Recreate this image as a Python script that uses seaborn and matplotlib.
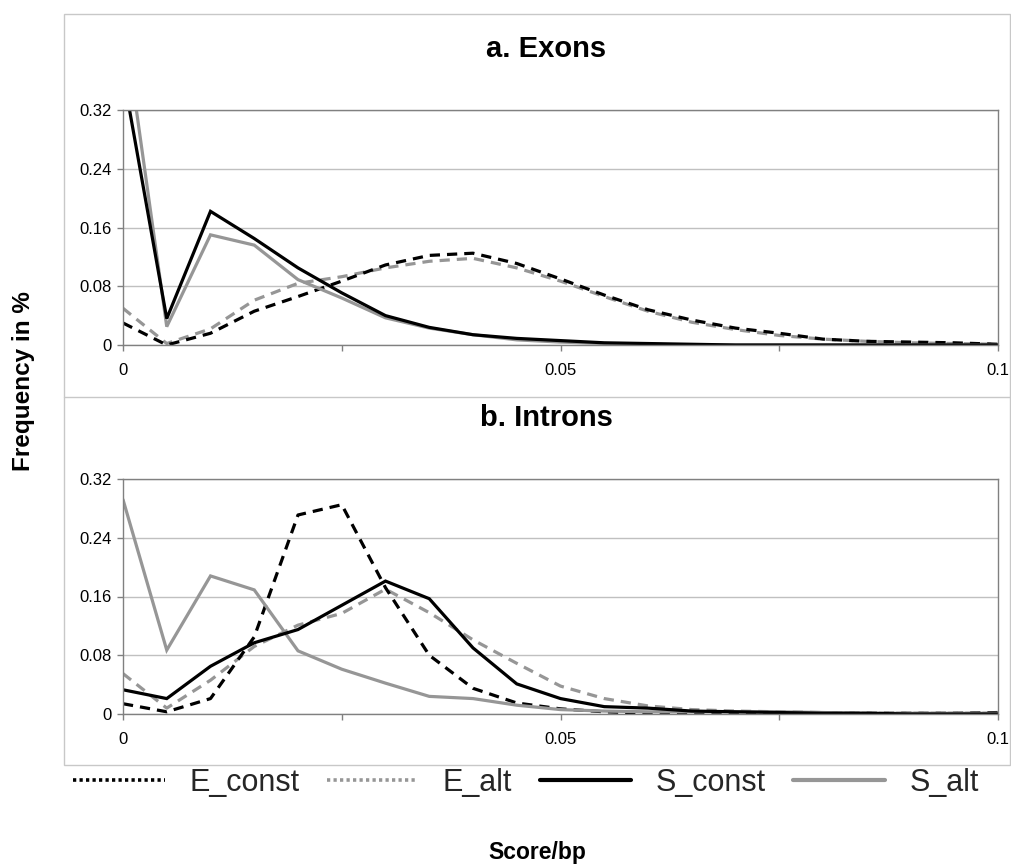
import numpy as np
import pandas as pd
import matplotlib
matplotlib.use("Agg")
import matplotlib.pyplot as plt
from matplotlib.lines import Line2D
from matplotlib.patches import Rectangle
import seaborn as sns

# ---- data ----
score = [0.000, 0.005, 0.010, 0.015, 0.020, 0.025, 0.030, 0.035, 0.040, 0.045, 0.050,
         0.055, 0.060, 0.065, 0.070, 0.075, 0.080, 0.085, 0.090, 0.095, 0.100]

exon_E_const = [0.030, 0.000, 0.016, 0.046, 0.066, 0.087, 0.109, 0.122, 0.125, 0.111, 0.090,
                0.068, 0.048, 0.034, 0.023, 0.016, 0.008, 0.005, 0.004, 0.003, 0.001]
exon_E_alt = [0.050, 0.002, 0.022, 0.061, 0.084, 0.093, 0.105, 0.114, 0.118, 0.105, 0.087,
              0.066, 0.046, 0.031, 0.021, 0.013, 0.008, 0.005, 0.003, 0.002, 0.001]
exon_S_const = [0.370, 0.036, 0.182, 0.145, 0.105, 0.071, 0.040, 0.024, 0.014, 0.009, 0.006,
                0.003, 0.002, 0.001, 0.000, 0.000, 0.000, 0.000, 0.000, 0.000, 0.000]
exon_S_alt = [0.450, 0.025, 0.150, 0.136, 0.089, 0.064, 0.037, 0.023, 0.014, 0.007, 0.004,
              0.002, 0.001, 0.000, 0.000, 0.000, 0.000, 0.000, 0.000, 0.000, 0.000]

intron_E_const = [0.014, 0.003, 0.021, 0.105, 0.271, 0.285, 0.172, 0.080, 0.035, 0.015, 0.007,
                  0.003, 0.001, 0.001, 0.001, 0.001, 0.001, 0.001, 0.001, 0.001, 0.002]
intron_E_alt = [0.055, 0.008, 0.046, 0.092, 0.121, 0.137, 0.170, 0.138, 0.101, 0.069, 0.038,
                0.021, 0.011, 0.006, 0.004, 0.003, 0.002, 0.001, 0.001, 0.001, 0.001]
intron_S_const = [0.033, 0.021, 0.065, 0.097, 0.115, 0.148, 0.181, 0.157, 0.090, 0.041, 0.021,
                  0.010, 0.008, 0.004, 0.003, 0.002, 0.001, 0.001, 0.000, 0.000, 0.000]
intron_S_alt = [0.292, 0.087, 0.188, 0.169, 0.086, 0.061, 0.042, 0.024, 0.021, 0.012, 0.006,
                0.004, 0.003, 0.003, 0.003, 0.003, 0.002, 0.001, 0.001, 0.001, 0.001]

series_names = ["E_const", "E_alt", "S_const", "S_alt"]
panel_titles = ["a. Exons", "b. Introns"]
y_ticks = [0, 0.08, 0.16, 0.24, 0.32]
y_tick_labels = ["0", "0.08", "0.16", "0.24", "0.32"]
x_ticks = [0, 0.025, 0.05, 0.075, 0.1]
x_tick_labels = ["0", "", "0.05", "", "0.1"]

# ---- styles ----
GRAY = "#969696"
BLACK = "#000000"
styles = {
    "E_const": dict(color=BLACK, dashes=(3.2, 2.2)),
    "E_alt": dict(color=GRAY, dashes=(3.2, 2.2)),
    "S_const": dict(color=BLACK, dashes=None),
    "S_alt": dict(color=GRAY, dashes=None),
}
draw_order = ["E_alt", "E_const", "S_alt", "S_const"]

panels = {
    "a. Exons": dict(zip(series_names, [exon_E_const, exon_E_alt, exon_S_const, exon_S_alt])),
    "b. Introns": dict(zip(series_names, [intron_E_const, intron_E_alt, intron_S_const, intron_S_alt])),
}

sns.set_theme(style="white")
plt.rcParams["font.family"] = ["Liberation Sans", "DejaVu Sans"]

W, H = 1011, 866
fig = plt.figure(figsize=(W / 100, H / 100), dpi=100)
fig.patch.set_facecolor("white")

def fx(px):
    return px / W

def fy(py):
    return 1 - py / H

axes_boxes = [(123, 110, 998, 345), (123, 479, 998, 714)]
title_y = [49, 418]

LW = 2.3
for (l, t, r, b), title, ty in zip(axes_boxes, panel_titles, title_y):
    ax = fig.add_axes([fx(l), fy(b), fx(r) - fx(l), fy(t) - fy(b)])
    data = panels[title]
    for name in draw_order:
        st = styles[name]
        df = pd.DataFrame({"score": score, "freq": data[name]})
        sns.lineplot(data=df, x="score", y="freq", ax=ax, color=st["color"],
                     linewidth=LW, legend=False)
        line = ax.lines[-1]
        if st["dashes"] is not None:
            line.set_dashes(st["dashes"])
            line.set_dash_capstyle("butt")
        line.set_solid_joinstyle("miter")
    ax.set_xlim(0, 0.1)
    ax.set_ylim(0, 0.32)
    ax.set_yticks(y_ticks)
    ax.set_yticklabels(y_tick_labels)
    ax.set_xticks(x_ticks)
    ax.set_xticklabels(x_tick_labels)
    ax.set_xlabel("")
    ax.set_ylabel("")
    ax.grid(axis="y", color="#c0c0c0", linewidth=1.0)
    ax.set_axisbelow(True)
    for sp in ax.spines.values():
        sp.set_color("#808080")
        sp.set_linewidth(1.0)
        sp.set_visible(True)
    ax.tick_params(axis="both", which="both", direction="out", length=4,
                   width=1.0, color="#808080", labelsize=12, labelcolor="black",
                   bottom=True, left=True)
    ax.tick_params(axis="x", pad=9)
    ax.tick_params(axis="y", pad=4)
    fig.text(fx(546), fy(ty), title, ha="center", va="center",
             fontsize=21, fontweight="bold", color="black")

# outer chart frame and separator
fig.patches.append(Rectangle((fx(64), fy(765)), fx(1010) - fx(64), fy(14) - fy(765),
                             transform=fig.transFigure, fill=False,
                             edgecolor="#c8c8c8", linewidth=1.0))
fig.lines.append(Line2D([fx(64), fx(1010)], [fy(397), fy(397)], transform=fig.transFigure,
                        color="#c8c8c8", linewidth=1.0))

# axis labels
fig.text(fx(24), fy(381), "Frequency in %", rotation=90, ha="center", va="center",
         fontsize=17.5, fontweight="bold", color="black")
fig.text(fx(537), fy(852), "Score/bp", ha="center", va="center",
         fontsize=16.5, fontweight="bold", color="black")

# legend
handles = [
    Line2D([], [], color=BLACK, linewidth=2.6, linestyle=(0, (0.9, 0.9))),
    Line2D([], [], color=GRAY, linewidth=2.6, linestyle=(0, (0.9, 0.9))),
    Line2D([], [], color=BLACK, linewidth=3.0),
    Line2D([], [], color=GRAY, linewidth=3.0),
]
fig.legend(handles, series_names, loc="center", bbox_to_anchor=(fx(526), fy(783)),
           ncol=4, frameon=False, fontsize=22, handlelength=3.0, handletextpad=0.8,
           columnspacing=0.9, borderaxespad=0)

fig.savefig("out.png", dpi=100, facecolor="white")
